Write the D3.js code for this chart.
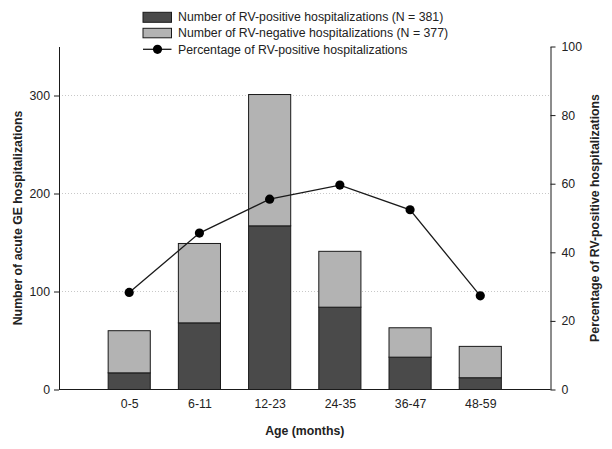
<!DOCTYPE html>
<html><head><meta charset="utf-8">
<script src="https://cdn.jsdelivr.net/npm/d3@7"></script>
<style>body{margin:0;background:#fff}svg{display:block;font-family:"Liberation Sans",Arial,sans-serif}</style>
</head><body><svg id="c" width="612" height="449"></svg>
<script>
const categories = ["0-5","6-11","12-23","24-35","36-47","48-59"];
const positive = [17, 68, 167, 84, 33, 12];
const negative = [43, 81, 134, 57, 30, 32];
const percentPositive = [28.3, 45.6, 55.5, 59.6, 52.4, 27.3];
const leftTicks = [0, 100, 200, 300];
const rightTicks = [0, 20, 40, 60, 80, 100];
const legendLabels = ["Number of RV-positive hospitalizations (N = 381)",
  "Number of RV-negative hospitalizations (N = 377)",
  "Percentage of RV-positive hospitalizations"];

const svg = d3.select("#c");
const L = 59, R = 550.5, T = 46.5, B = 389.5;
const x = d3.scalePoint().domain(categories).range([L, R]).padding(1);
const yL = d3.scaleLinear().domain([0, 350]).range([B, T]);
const yR = d3.scaleLinear().domain([0, 100]).range([B, T]);
const bw = x.step() * 0.6;
const ink = "#1a1a1a";

// gridlines
svg.append("g").selectAll("line").data(leftTicks.filter(d => d > 0)).join("line")
  .attr("x1", L).attr("x2", R).attr("y1", d => yL(d)).attr("y2", d => yL(d))
  .attr("stroke", "#c8c8c8").attr("stroke-width", 1).attr("stroke-dasharray", "1,2");

// bars
const bars = svg.append("g");
bars.selectAll(".pos").data(categories).join("rect")
  .attr("x", d => x(d) - bw/2).attr("width", bw)
  .attr("y", (d,i) => yL(positive[i])).attr("height", (d,i) => yL(0) - yL(positive[i]))
  .attr("fill", "#4a4a4a").attr("stroke", ink).attr("stroke-width", 1);
bars.selectAll(".neg").data(categories).join("rect")
  .attr("x", d => x(d) - bw/2).attr("width", bw)
  .attr("y", (d,i) => yL(positive[i] + negative[i])).attr("height", (d,i) => yL(positive[i]) - yL(positive[i] + negative[i]))
  .attr("fill", "#b3b3b3").attr("stroke", ink).attr("stroke-width", 1);

// line
svg.append("path").datum(categories)
  .attr("d", d3.line().x(d => x(d)).y((d,i) => yR(percentPositive[i])))
  .attr("fill", "none").attr("stroke", ink).attr("stroke-width", 1.3);
svg.append("g").selectAll("circle").data(categories).join("circle")
  .attr("cx", d => x(d)).attr("cy", (d,i) => yR(percentPositive[i])).attr("r", 4.6).attr("fill", "#000");

// axes
const gl = svg.append("g").attr("transform", `translate(${L},0)`)
  .call(d3.axisLeft(yL).tickValues(leftTicks).tickSize(5).tickPadding(4).tickSizeOuter(0));
const gr = svg.append("g").attr("transform", `translate(${R},0)`)
  .call(d3.axisRight(yR).tickValues(rightTicks).tickSize(5).tickPadding(6).tickSizeOuter(0));
const gb = svg.append("g").attr("transform", `translate(0,${B})`)
  .call(d3.axisBottom(x).tickSize(0).tickPadding(10));
gb.select(".domain").attr("d", `M${L},0H${R}`);
[gl, gr, gb].forEach(g => {
  g.selectAll("text").attr("font-size", 12.3).attr("fill", "#222").attr("font-family", "Liberation Sans, Arial, sans-serif");
  g.selectAll("line,path").attr("stroke", ink);
});

// titles
svg.append("text").attr("x", (L+R)/2).attr("y", 435).attr("text-anchor", "middle")
  .attr("font-size", 12.3).attr("font-weight", "bold").attr("fill", "#222").text("Age (months)");
svg.append("text").attr("transform", `translate(22,${(T+B)/2}) rotate(-90)`).attr("text-anchor", "middle")
  .attr("font-size", 12.3).attr("font-weight", "bold").attr("fill", "#222").text("Number of acute GE hospitalizations");
svg.append("text").attr("transform", `translate(599,${(T+B)/2}) rotate(-90)`).attr("text-anchor", "middle")
  .attr("font-size", 12.3).attr("font-weight", "bold").attr("fill", "#222").text("Percentage of RV-positive hospitalizations");

// legend
const lg = svg.append("g");
const lx = 143, ly = [17, 33, 49.3];
lg.append("rect").attr("x", lx).attr("y", 12.3).attr("width", 28.5).attr("height", 10).attr("fill", "#4a4a4a").attr("stroke", ink);
lg.append("rect").attr("x", lx).attr("y", 28.3).attr("width", 28.5).attr("height", 9.5).attr("fill", "#b3b3b3").attr("stroke", ink);
lg.append("line").attr("x1", lx).attr("x2", lx + 28.5).attr("y1", ly[2]).attr("y2", ly[2]).attr("stroke", ink).attr("stroke-width", 1.3);
lg.append("circle").attr("cx", lx + 14.5).attr("cy", ly[2]).attr("r", 4.6).attr("fill", "#000");
lg.selectAll("text").data(legendLabels).join("text")
  .attr("x", 178).attr("y", (d,i) => ly[i] + 4.4).attr("font-size", 12.3).attr("fill", "#222").text(d => d);
</script></body></html>
